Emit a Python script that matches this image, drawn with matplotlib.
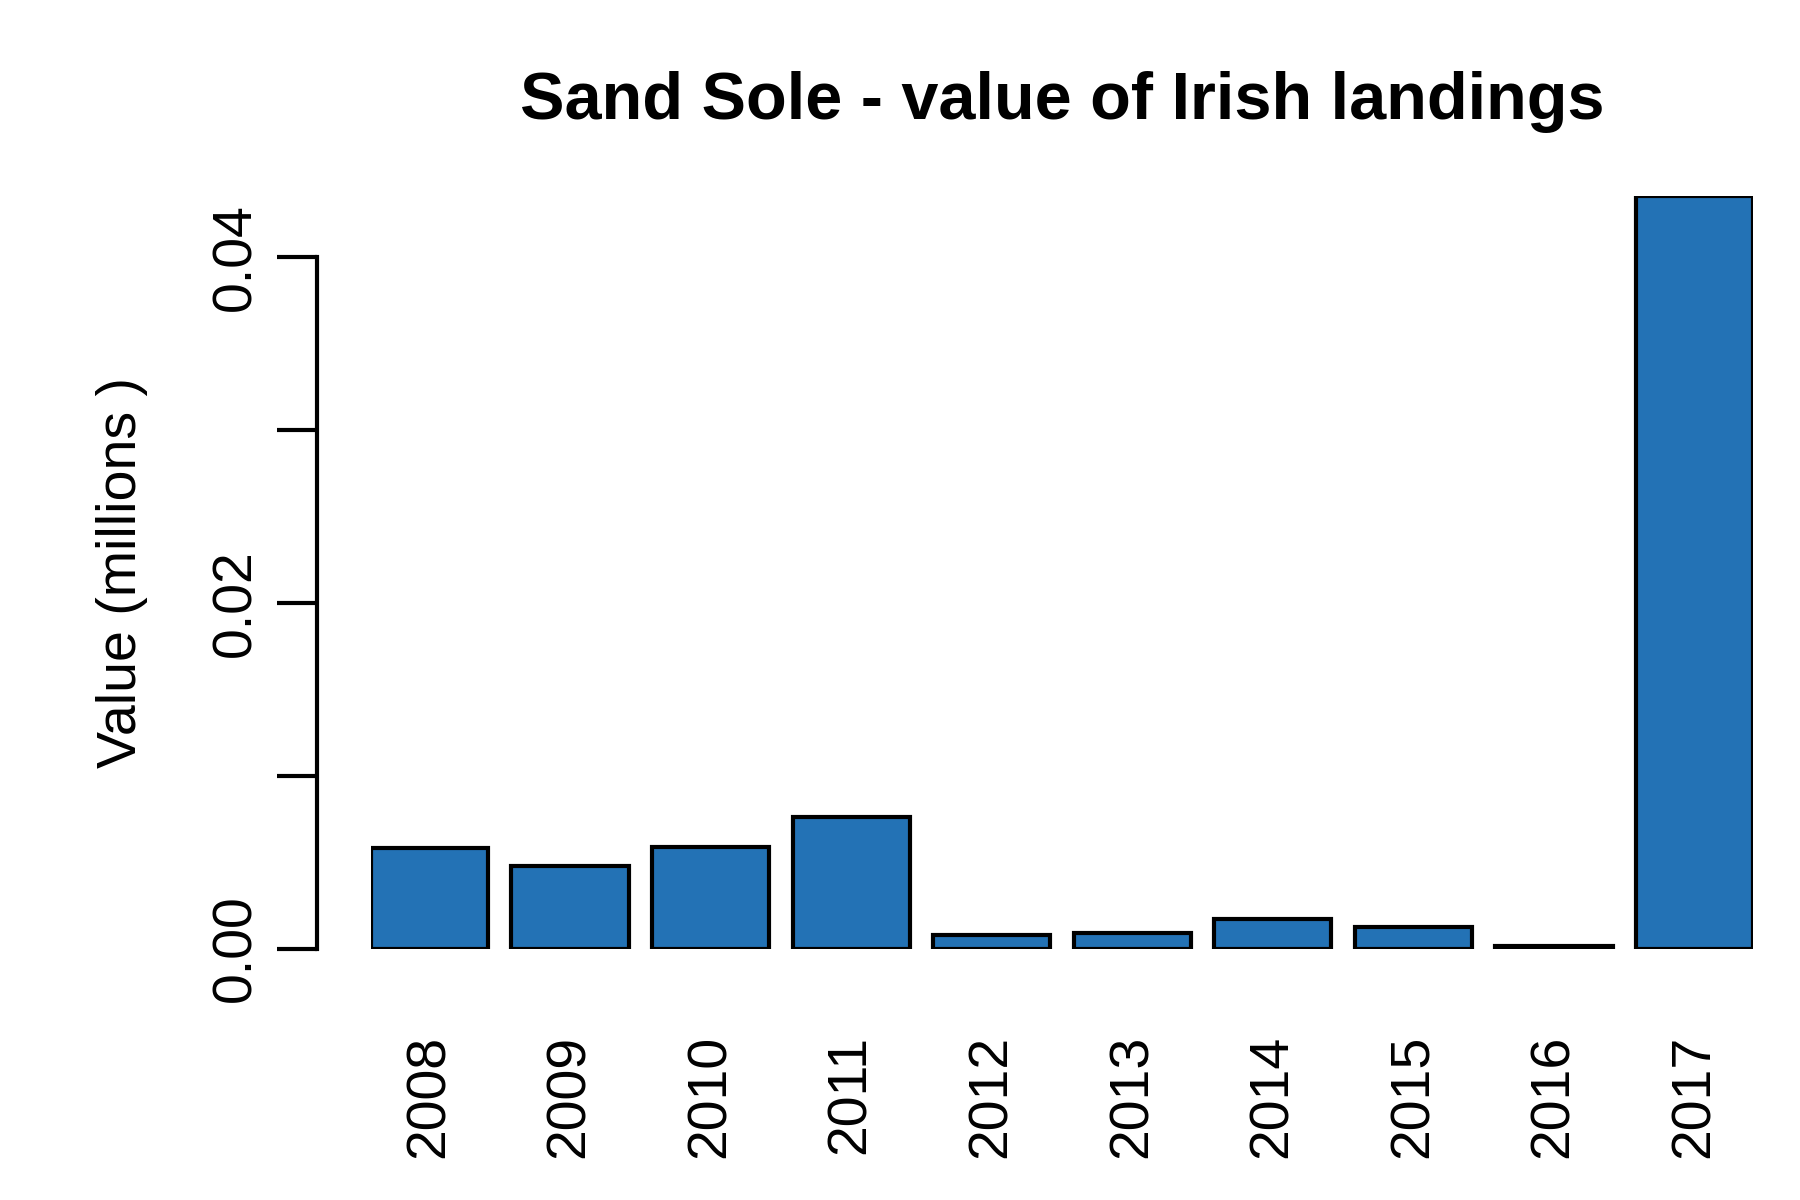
import matplotlib.pyplot as plt

years = ['2008', '2009', '2010', '2011', '2012', '2013', '2014', '2015', '2016', '2017']
values = [0.00582, 0.00476, 0.00588, 0.0076, 0.0008, 0.00093, 0.00172, 0.00126, 0.00013, 0.0435]

plt.rcParams['font.family'] = ['Liberation Sans', 'DejaVu Sans']

fig = plt.figure(figsize=(18, 12), dpi=100)
ax = fig.add_axes([0.206, 0.2095, 0.768, 0.627])

x = [0.7 + 1.2 * i for i in range(len(years))]
ax.bar(x, values, width=1.0, color='#2372b5', edgecolor='black', linewidth=3)
ax.set_xlim(0.2, 12.0)
ax.set_ylim(0, 0.0435)

for s in ['top', 'right', 'bottom']:
    ax.spines[s].set_visible(False)
ax.spines['left'].set_position(('outward', 39))
ax.spines['left'].set_linewidth(3)
ax.spines['left'].set_bounds(0, 0.04)

ax.set_yticks([0, 0.01, 0.02, 0.03, 0.04])
ax.set_yticklabels(['0.00', '', '0.02', '', '0.04'], rotation=90, va='center', fontsize=40)
ax.tick_params(axis='y', length=29, width=3, pad=10)

ax.set_xticks(x)
ax.set_xticklabels(years, rotation=90, fontsize=40)
ax.tick_params(axis='x', length=0, pad=62)

ax.set_ylabel('Value (millions )', fontsize=40, labelpad=45)
fig.text(0.59, 0.915, 'Sand Sole - value of Irish landings', ha='center', va='center',
         fontsize=48, fontweight='bold')

fig.savefig('out.png')
